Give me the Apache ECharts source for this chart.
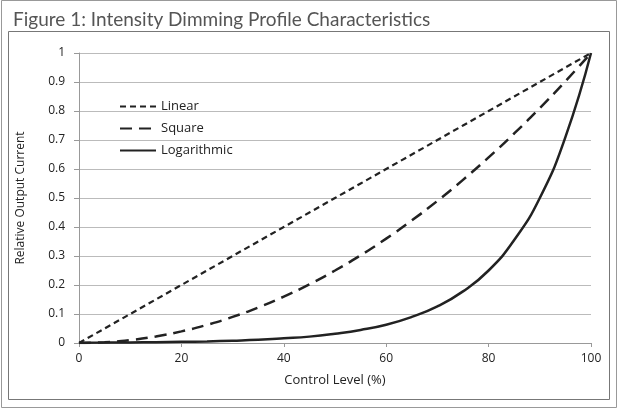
<!DOCTYPE html>
<html><head><meta charset="utf-8">
<script src="https://cdn.jsdelivr.net/npm/echarts@6/dist/echarts.min.js"></script>
<style>html,body{margin:0;padding:0;background:#fff}#c{width:618px;height:409px}</style>
</head><body><div id="c"></div>
<script>
const xLevels = [0,5,10,15,20,25,30,35,40,45,50,55,60,65,70,75,80,85,90,95,100];
const linearVals = [0,0.05,0.1,0.15,0.2,0.25,0.3,0.35,0.4,0.45,0.5,0.55,0.6,0.65,0.7,0.75,0.8,0.85,0.9,0.95,1];
const squareVals = [0,0.0025,0.01,0.0225,0.04,0.0625,0.09,0.1225,0.16,0.2025,0.25,0.3025,0.36,0.4225,0.49,0.5625,0.64,0.7225,0.81,0.9025,1];
const logVals = [0.001,0.0014,0.002,0.0028,0.004,0.0056,0.008,0.011,0.016,0.022,0.032,0.045,0.063,0.09,0.126,0.178,0.25,0.355,0.5,0.71,1];
const seriesNames = ['Linear','Square','Logarithmic'];
const titleText = 'Figure 1: Intensity Dimming Profile Characteristics';
const xName = 'Control Level (%)';
const yName = 'Relative Output Current';

const TFONT = 'Lato, "Open Sans", sans-serif';
const FONT = '"Open Sans", Lato, sans-serif';
const pair = (vals) => xLevels.map((x,i)=>[x, vals[i]]);
const chart = echarts.init(document.getElementById('c'));
chart.setOption({
  animation:false,
  backgroundColor:'#fff',
  title:{text:titleText,left:8,top:5,textStyle:{fontFamily:TFONT,fontWeight:'normal',fontSize:19,color:'#555'}},
  graphic:[
    {type:'rect',shape:{x:1.5,y:0.5,width:615,height:407},style:{fill:'none',stroke:'#999',lineWidth:1}},
    {type:'rect',shape:{x:8.5,y:31.5,width:601,height:368},style:{fill:'none',stroke:'#777',lineWidth:1}}
  ],
  grid:{left:79,right:27,top:53,bottom:66},
  legend:{
    orient:'vertical',left:114,top:95,itemWidth:36,itemHeight:10,itemGap:9,
    itemStyle:{opacity:0},
    textStyle:{fontFamily:FONT,fontSize:13,color:'#222'},
    data:seriesNames
  },
  xAxis:{
    type:'value',min:0,max:100,interval:20,
    name:xName,nameLocation:'middle',nameGap:31,
    nameTextStyle:{fontFamily:FONT,fontSize:13,color:'#222'},
    axisLine:{lineStyle:{color:'#999'}},
    axisTick:{show:true,length:4,lineStyle:{color:'#999'}},
    axisLabel:{fontFamily:FONT,fontSize:12,color:'#222',margin:10},
    splitLine:{show:false}
  },
  yAxis:{
    type:'value',min:0,max:1,interval:0.1,
    name:yName,nameLocation:'middle',nameGap:52,
    nameTextStyle:{fontFamily:FONT,fontSize:12,color:'#222'},
    axisLine:{show:true,lineStyle:{color:'#999'}},
    axisTick:{show:true,length:5,lineStyle:{color:'#999'}},
    axisLabel:{fontFamily:FONT,fontSize:12,color:'#222',margin:14,formatter:v=>String(Math.round(v*10)/10)},
    splitLine:{lineStyle:{color:'#bbb'}}
  },
  series:[
    {name:seriesNames[0],type:'line',data:pair(linearVals),showSymbol:false,symbol:'none',
      lineStyle:{color:'#222',width:2.2,type:[6,4]},itemStyle:{color:'#222'}},
    {name:seriesNames[1],type:'line',data:pair(squareVals),showSymbol:false,symbol:'none',smooth:true,
      lineStyle:{color:'#222',width:2.5,type:[12,7]},itemStyle:{color:'#222'}},
    {name:seriesNames[2],type:'line',data:pair(logVals),showSymbol:false,symbol:'none',smooth:true,
      lineStyle:{color:'#222',width:2.5},itemStyle:{color:'#222'}}
  ]
});
</script></body></html>
